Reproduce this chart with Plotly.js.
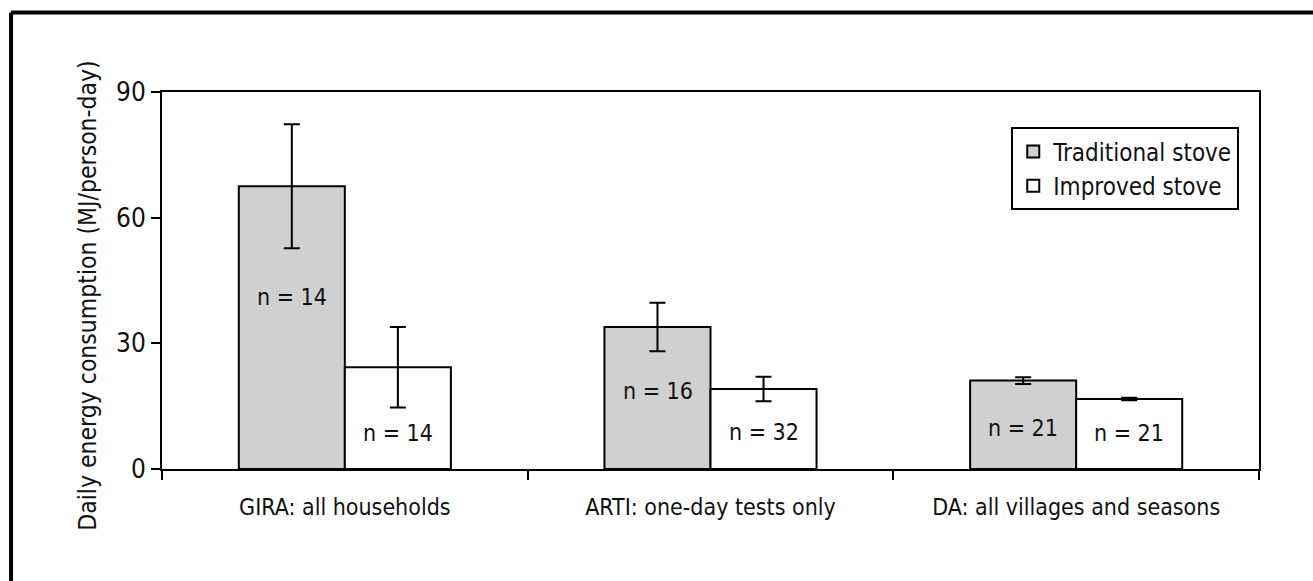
<!DOCTYPE html>
<html>
<head>
<meta charset="utf-8">
<script src="https://cdn.plot.ly/plotly-3.0.1.min.js"></script>
<style>
html, body { margin: 0; padding: 0; background: #fff; }
#chart { width: 1313px; height: 581px; }
</style>
</head>
<body>
<div id="chart"></div>
<script>
var categories = ["GIRA: all households", "ARTI: one-day tests only", "DA: all villages and seasons"];
var traditionalValues = [67.5, 33.9, 21.1];
var traditionalErrors = [14.8, 5.8, 0.8];
var improvedValues = [24.3, 19.1, 16.7];
var improvedErrors = [9.6, 2.9, 0.3];
var traditionalN = ["n = 14", "n = 16", "n = 21"];
var improvedN = ["n = 14", "n = 32", "n = 21"];
var traditionalLabelY = [41.1, 18.6, 9.8];
var improvedLabelY = [8.6, 8.9, 8.7];
var yTicks = [0, 30, 60, 90];
var yTitle = 'Daily energy consumption (MJ/person-day)';

var FONT = '"DejaVu Sans Condensed", "Liberation Sans Narrow", Arial, sans-serif';

var traces = [
  {
    type: 'bar', name: 'Traditional stove', x: categories, y: traditionalValues,
    marker: { color: '#d0d0d0', line: { color: '#000', width: 2 } },
    error_y: { type: 'data', array: traditionalErrors, visible: true, color: '#000', thickness: 2, width: 8 },
    hoverinfo: 'none'
  },
  {
    type: 'bar', name: 'Improved stove', x: categories, y: improvedValues,
    marker: { color: '#ffffff', line: { color: '#000', width: 2 } },
    error_y: { type: 'data', array: improvedErrors, visible: true, color: '#000', thickness: 2, width: 8 },
    hoverinfo: 'none'
  }
];

var annotations = [];
for (var i = 0; i < categories.length; i++) {
  annotations.push({ x: categories[i], y: traditionalLabelY[i], xref: 'x', yref: 'y', text: traditionalN[i],
    showarrow: false, xshift: -53, font: { family: FONT, size: 23, color: '#111' } });
  annotations.push({ x: categories[i], y: improvedLabelY[i], xref: 'x', yref: 'y', text: improvedN[i],
    showarrow: false, xshift: 53, font: { family: FONT, size: 23, color: '#111' } });
}
annotations.push({
  xref: 'paper', yref: 'paper', x: 0, y: 0.4595, xshift: -74, xanchor: 'center', yanchor: 'middle',
  textangle: -90, showarrow: false, text: yTitle,
  font: { family: FONT, size: 24.5, color: '#111' }
});

var layout = {
  width: 1313, height: 581,
  margin: { l: 162, r: 54, t: 92, b: 112 },
  paper_bgcolor: '#fff', plot_bgcolor: '#fff',
  font: { family: FONT, size: 24, color: '#111' },
  barmode: 'group', bargap: 0.42, bargroupgap: 0,
  showlegend: true,
  legend: {
    x: 0.982, xanchor: 'right', y: 0.906, yanchor: 'top',
    bordercolor: '#000', borderwidth: 2, bgcolor: '#fff',
    font: { family: FONT, size: 24, color: '#111' },
    itemwidth: 30, tracegroupgap: 0
  },
  xaxis: {
    type: 'category', showline: true, linecolor: '#000', linewidth: 2, mirror: true,
    ticks: 'outside', tickson: 'boundaries', ticklen: 9, tickwidth: 2, tickcolor: '#000',
    ticklabelstandoff: 16,
    showgrid: false, zeroline: false, fixedrange: true,
    tickfont: { family: FONT, size: 23, color: '#111' }
  },
  yaxis: {
    range: [0, 90], tickvals: yTicks, ticktext: yTicks.map(String),
    showline: true, linecolor: '#000', linewidth: 2, mirror: true,
    ticks: 'outside', ticklen: 9, tickwidth: 2, tickcolor: '#000',
    showgrid: false, zeroline: false, fixedrange: true,
    tickfont: { family: FONT, size: 26, color: '#111' }
  },
  annotations: annotations,
  shapes: [
    { type: 'line', xref: 'paper', yref: 'paper', x0: -0.1376, x1: 1.2, y0: 1.211, y1: 1.211, line: { color: '#000', width: 4 } },
    { type: 'line', xref: 'paper', yref: 'paper', x0: -0.1376, x1: -0.1376, y0: 1.211, y1: -0.5, line: { color: '#000', width: 4 } }
  ]
};

Plotly.newPlot('chart', traces, layout, { displayModeBar: false, staticPlot: true });
</script>
</body>
</html>
